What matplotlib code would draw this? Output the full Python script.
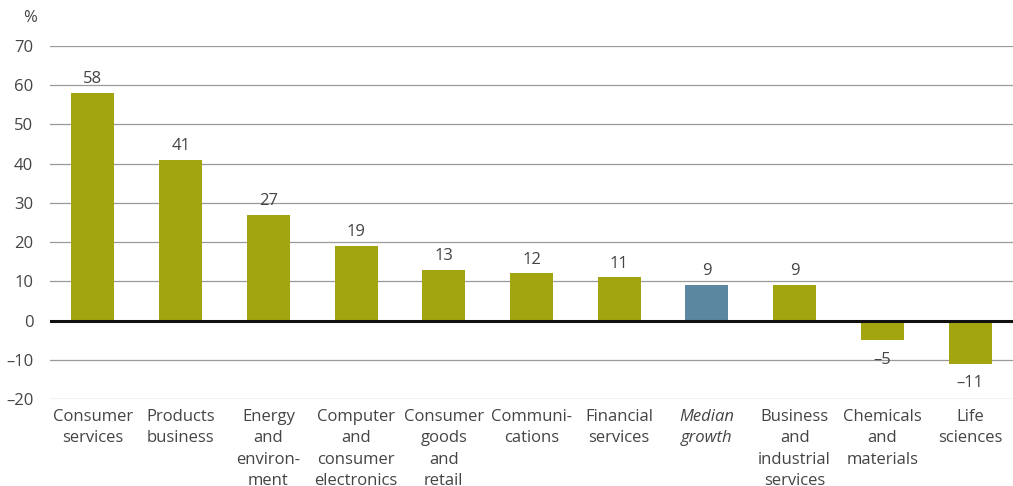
import matplotlib.pyplot as plt
import numpy as np

plt.rcParams['font.family'] = ['Open Sans', 'DejaVu Sans']

categories = ["Consumer\nservices", "Products\nbusiness", "Energy\nand\nenviron-\nment",
              "Computer\nand\nconsumer\nelectronics", "Consumer\ngoods\nand\nretail",
              "Communi-\ncations", "Financial\nservices", "Median\ngrowth",
              "Business\nand\nindustrial\nservices", "Chemicals\nand\nmaterials", "Life\nsciences"]
values = [58, 41, 27, 19, 13, 12, 11, 9, 9, -5, -11]
value_labels = ["58", "41", "27", "19", "13", "12", "11", "9", "9", "\u20135", "\u201311"]
median_idx = 7

olive = "#a3a510"
blue = "#5b87a0"
text_col = "#444444"

fig = plt.figure(figsize=(10.13, 4.86), dpi=100)
ax = fig.add_axes([50 / 1013, 87 / 486, 963 / 1013, 353 / 486])

x = np.arange(len(values))
colors = [blue if i == median_idx else olive for i in x]
ax.bar(x, values, width=0.49, color=colors, zorder=2)

ax.set_ylim(-20, 70)
ax.set_xlim(-0.49, len(values) - 0.51)
yt = np.arange(-20, 71, 10)
ax.set_yticks(yt)
ax.set_yticklabels([("\u2013" + str(-v)) if v < 0 else str(v) for v in yt],
                   fontsize=12, color=text_col)
for v in yt:
    if v != 0:
        ax.axhline(v, color="#9a9a9a", lw=0.9, zorder=1)
ax.axhline(0, color="#111111", lw=2.2, zorder=3)

ax.set_xticks(x)
ax.set_xticklabels(categories, fontsize=12, color=text_col, linespacing=1.45, va="top")
for i, lbl in enumerate(ax.get_xticklabels()):
    if i == median_idx:
        lbl.set_style("italic")

ax.tick_params(axis="both", length=0)
ax.tick_params(axis="y", pad=12)
ax.tick_params(axis="x", pad=7)
for s in ax.spines.values():
    s.set_visible(False)

for i, (v, t) in enumerate(zip(values, value_labels)):
    if v >= 0:
        ax.text(i, v + 1.5, t, ha="center", va="bottom", fontsize=12, color=text_col)
    else:
        ax.text(i, v - 3.0, t, ha="center", va="top", fontsize=12, color=text_col)

fig.text(30 / 1013, 1 - 18 / 486, "%", ha="center", va="center", fontsize=12, color=text_col)

fig.savefig("out.png", dpi=100)
